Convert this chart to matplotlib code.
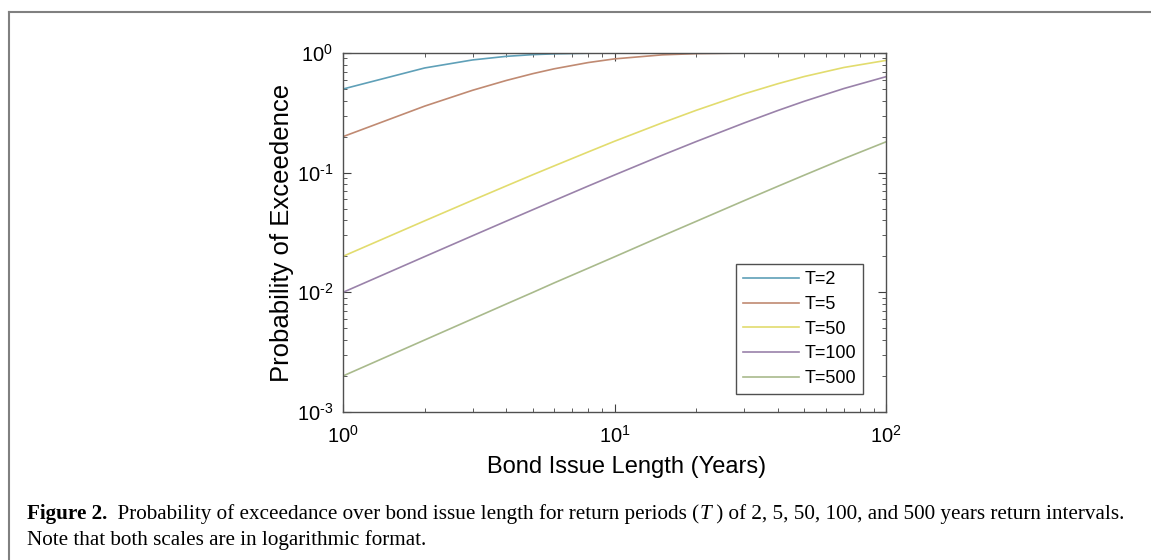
import numpy as np
import matplotlib
matplotlib.use("Agg")
import matplotlib.pyplot as plt
from matplotlib.lines import Line2D
from matplotlib.ticker import LogLocator, NullFormatter, FuncFormatter

plt.rcParams['font.family'] = ['Liberation Sans', 'DejaVu Sans']
plt.rcParams['mathtext.fontset'] = 'custom'
plt.rcParams['mathtext.rm'] = 'Liberation Sans'
plt.rcParams['mathtext.it'] = 'Liberation Sans:italic'
plt.rcParams['axes.unicode_minus'] = False

# bond issue length (years) and probability of exceedance
years = [1, 2, 3, 4, 5, 6, 8, 10, 15, 20, 30, 40, 50, 70, 100]
p_t2 = [0.5, 0.75, 0.875, 0.938, 0.969, 0.984, 0.996, 0.999, 1.0, 1.0, 1.0, 1.0, 1.0, 1.0, 1.0]
p_t5 = [0.2, 0.36, 0.488, 0.59, 0.672, 0.738, 0.832, 0.893, 0.965, 0.988, 0.999, 1.0, 1.0, 1.0, 1.0]
p_t50 = [0.02, 0.0396, 0.0588, 0.0776, 0.0961, 0.114, 0.149, 0.183, 0.261, 0.332, 0.455, 0.554, 0.636, 0.757, 0.867]
p_t100 = [0.01, 0.0199, 0.0297, 0.0394, 0.049, 0.0585, 0.0773, 0.0956, 0.14, 0.182, 0.26, 0.331, 0.395, 0.505, 0.634]
p_t500 = [0.002, 0.004, 0.006, 0.008, 0.00998, 0.012, 0.0159, 0.0198, 0.0296, 0.0392, 0.0583, 0.0770, 0.0953, 0.131, 0.181]

labels = ['T=2', 'T=5', 'T=50', 'T=100', 'T=500']
series = [p_t2, p_t5, p_t50, p_t100, p_t500]
colors = ['#5fa0b8', '#c08a72', '#e2dc6e', '#9a82aa', '#a9ba8c']


def pow10(v, pos):
    e = int(round(np.log10(v)))
    if e < 0:
        return r'$10^{\text{-}%d}$' % (-e)
    return r'$10^{%d}$' % e


fig = plt.figure(figsize=(11.51, 5.6), dpi=100)

# frame lines round the figure (top and left only)
fig.add_artist(Line2D([0.0075, 1.0], [1 - 11.5 / 560, 1 - 11.5 / 560], color='#808080', lw=1.5))
fig.add_artist(Line2D([0.0075, 0.0075], [0.0, 1 - 11.5 / 560], color='#808080', lw=1.5))

ax = fig.add_axes([343 / 1151, 1 - 412 / 560, 543 / 1151, 359 / 560])
for vals, lab, c in zip(series, labels, colors):
    ax.plot(years, vals, color=c, lw=1.2, label=lab)

ax.set_xscale('log')
ax.set_yscale('log')
ax.set_xlim(1, 100)
ax.set_ylim(1e-3, 1)
ax.xaxis.set_minor_locator(LogLocator(base=10, subs=np.arange(2, 10)))
ax.yaxis.set_minor_locator(LogLocator(base=10, subs=np.arange(2, 10)))
ax.xaxis.set_minor_formatter(NullFormatter())
ax.yaxis.set_minor_formatter(NullFormatter())
ax.xaxis.set_major_formatter(FuncFormatter(pow10))
ax.yaxis.set_major_formatter(FuncFormatter(pow10))
ax.tick_params(which='both', direction='in', top=True, right=True, colors='#404040',
               labelcolor='black', labelsize=14.5)
ax.tick_params(which='major', length=6, width=0.8)
ax.tick_params(which='minor', length=3, width=0.6)
ax.tick_params(axis='x', pad=9)
ax.tick_params(axis='y', pad=7)
for s in ax.spines.values():
    s.set_color('#505050')
    s.set_linewidth(1.0)

ax.set_xlabel('Bond Issue Length (Years)', fontsize=17, labelpad=7)
ax.set_ylabel('Probability of Exceedence', fontsize=18.5, labelpad=2)
ax.xaxis.label.set_x(0.522)

leg = ax.legend(loc='lower right', bbox_to_anchor=(0.958, 0.05), borderaxespad=0,
                fontsize=13, handlelength=3.1, labelspacing=0.42, handletextpad=0.3,
                fancybox=False, framealpha=1, edgecolor='#505050')
leg.get_frame().set_linewidth(1.0)

# caption in serif, built from pieces so that bold / italic parts line up
renderer = fig.canvas.get_renderer()
cap_size = 15.2
serif = ['Liberation Serif', 'DejaVu Serif']


def chain(x, y, pieces):
    for txt, kw in pieces:
        t = fig.text(x, y, txt, fontsize=cap_size, family=serif, va='baseline', ha='left', **kw)
        bb = t.get_window_extent(renderer)
        x = x + bb.width / fig.bbox.width


chain(27 / 1151, 1 - 519 / 560, [
    ('Figure 2.', dict(weight='bold')),
    ('  Probability of exceedance over bond issue length for return periods (', {}),
    ('T', dict(style='italic')),
    (' ) of 2, 5, 50, 100, and 500 years return intervals.', {}),
])
chain(27 / 1151, 1 - 545 / 560, [
    ('Note that both scales are in logarithmic format.', {}),
])

fig.savefig('out.png', dpi=100)
